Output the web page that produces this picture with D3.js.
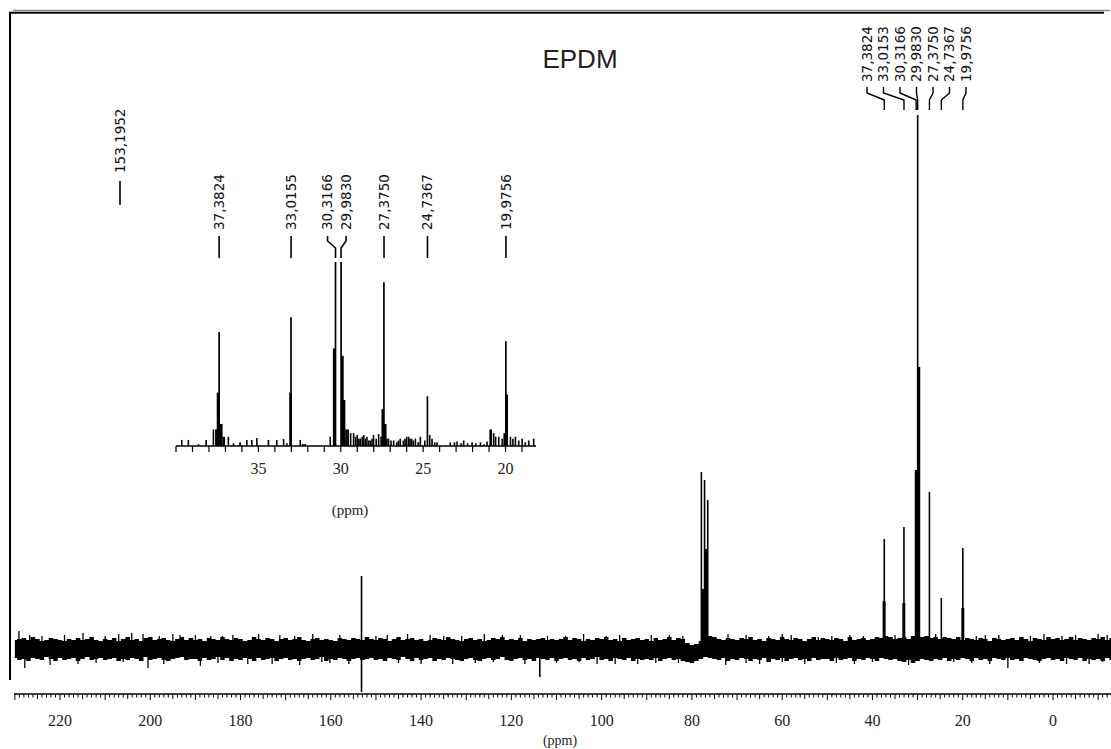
<!DOCTYPE html>
<html><head><meta charset="utf-8">
<script src="https://cdn.jsdelivr.net/npm/d3@7"></script>
<style>body{margin:0;background:#fff}svg{display:block}</style>
</head><body>
<svg id="c" width="1111" height="749"></svg>
<script>
// ---------------- DATA ----------------
const title = "EPDM";
const axisLabel = "(ppm)";
// baseline noise envelope, 1 ppm bins starting at 230 ppm going down to -13 ppm
const noiseStart = 230;
const noiseHi = [
  9,10,11,9,12,10,8,9,11,10,9,8,10,9,11,9,10,12,9,8,
  10,9,11,8,10,12,9,10,8,11,12,9,10,11,9,8,10,12,9,11,
  9,10,8,11,10,9,12,10,9,11,10,8,9,12,10,9,11,10,8,10,
  11,9,10,12,9,8,10,11,9,10,9,8,11,10,9,11,10,9,12,10,
  9,11,10,8,10,12,9,10,11,9,10,8,9,11,10,9,12,10,9,8,
  10,11,9,10,8,9,11,10,12,9,10,9,11,8,10,9,10,11,9,10,
  9,10,12,9,11,10,8,10,9,11,10,12,9,10,8,11,9,10,11,9,
  10,8,11,9,10,12,9,11,10,6,4,5,8,12,13,12,10,9,11,10,
  9,11,10,12,9,10,8,11,10,9,12,10,9,11,10,8,10,12,9,11,
  10,9,11,10,8,12,9,10,11,9,10,12,11,13,12,10,11,12,10,13,
  14,12,13,11,12,10,12,11,10,12,9,11,10,9,11,10,8,11,10,9,
  10,11,9,12,10,8,11,10,9,12,10,11,9,10,12,9,11,10,9,11,
  10,12,9,11
];
const noiseLo = [
  -9,-11,-10,-12,-9,-10,-11,-8,-10,-12,-9,-11,-10,-9,-12,-10,-8,-11,-10,-9,
  -11,-10,-9,-12,-10,-11,-9,-10,-12,-8,-11,-10,-9,-11,-12,-10,-9,-8,-11,-10,
  -10,-12,-9,-11,-10,-8,-11,-9,-12,-10,-11,-9,-10,-12,-9,-11,-10,-9,-12,-10,
  -9,-11,-10,-12,-10,-9,-11,-10,-8,-12,-10,-11,-9,-10,-12,-10,-9,-11,-10,-9,
  -11,-10,-12,-9,-10,-11,-8,-10,-12,-9,-11,-10,-9,-12,-10,-11,-9,-10,-11,-12,
  -10,-9,-11,-12,-10,-9,-11,-10,-8,-11,-12,-10,-9,-11,-10,-12,-9,-10,-11,-9,
  -12,-10,-9,-11,-10,-12,-9,-11,-10,-8,-11,-10,-12,-9,-10,-11,-9,-12,-10,-11,
  -10,-11,-9,-12,-10,-9,-11,-10,-12,-13,-14,-12,-10,-8,-9,-10,-11,-9,-12,-10,
  -11,-9,-10,-12,-10,-11,-9,-13,-10,-11,-9,-12,-10,-9,-11,-10,-12,-9,-11,-10,
  -10,-12,-9,-11,-10,-9,-12,-10,-11,-9,-10,-12,-9,-10,-11,-10,-12,-13,-11,-14,
  -12,-10,-11,-12,-10,-11,-9,-12,-10,-11,-9,-10,-12,-9,-11,-10,-12,-9,-10,-11,
  -9,-11,-10,-12,-9,-10,-11,-12,-10,-9,-11,-10,-12,-9,-10,-11,-9,-12,-10,-11,
  -10,-12,-9,-11
];
// isolated noise spikes [ppm, intensity]
const spikes = [
  [229.1,18],[226.7,14],[224,13],[219,14],[214.9,16],[210,13],[207,15],[204.1,16],[201.6,15],
  [198,13],[195,15],[193.4,14],[190,14],[186.6,13],[184,13],[181.7,14],[176,15],[171.3,14],
  [168,13],[164,15],[158,14],[150,13],[147.5,14],[143,15],[138,14],[135,13],[131,13],
  [126,15],[122,14],[118,14],[112,13],[108,13],[104,15],[99,13],[96,14],[89,14],[85,14],
  [82,13],[72,15],[68,14],[63,13],[60,15],[58,14],[52,12],[49,13],[45,14],[42,13],[35,14],
  [26,15],[17,13],[15,14],[12,14],[5,13],[2,15],[-2,13],[-5,14],[-10,15],[-12,14],
  [227.8,-19],[222.2,-16],[216,-15],[212,-14],[206,-13],[200.5,-19],[197,-15],[188.9,-17],
  [185,-14],[178.4,-15],[173,-15],[166.9,-16],[162,-13],[160.2,-14],[156,-15],[145,-14],
  [140,-15],[133,-15],[128,-14],[124,-13],[117,-15],[110,-14],[105,-13],[101,-15],[97,-15],
  [92,-15],[88,-14],[83,-14],[72.5,-16],[68,-14],[65,-15],[60,-13],[55,-15],[48,-14],
  [44,-15],[40,-13],[32,-16],[22,-13],[18,-14],[14,-15],[10,-19],[3,-14],[-3,-15],
  [-8,-15],[-11,-13]
];
// resonances of the full spectrum [ppm, intensity]
const mainPeaks = [
  [153.2,73],[153.2,-43],[113.7,-28],
  [77.9,177],[77.2,169],[76.5,149],
  [37.38,110],[33.02,122],[30.32,179],[29.98,534],[27.38,157],[24.74,51],[19.98,101]
];
// broader lower parts of the resonances
const mainBodies = [
  [77.6,60],[76.9,100],[37.42,48],[33.05,46],[30.30,179],[29.75,282],[19.98,41]
];
const mainLabels = ["37,3824","33,0153","30,3166","29,9830","27,3750","24,7367","19,9756"];
const mainLabelPpm = [37.3824,33.0153,30.3166,29.9830,27.3750,24.7367,19.9756];
const sideLabel = "153,1952";
const mainTicks = [220,200,180,160,140,120,100,80,60,40,20,0];

// inset (expanded aliphatic region)
const insetLabels = ["37,3824","33,0155","30,3166","29,9830","27,3750","24,7367","19,9756"];
const insetLabelPpm = [37.3824,33.0155,30.3166,29.9830,27.3750,24.7367,19.9756];
const insetTicks = [35,30,25,20];
const insetPeaks = [
  [37.38,62],[33.02,70],[30.32,100],[29.98,100],[27.38,89],[24.74,27],[19.98,57]
];
const insetBodies = [
  [37.55,9],[37.45,29],[37.25,12],[37.1,5],[33.05,29],[30.40,53],[29.90,49],[29.80,25],
  [29.65,9],[27.45,20],[27.30,12],[20.9,9],[20.05,7],[19.93,28]
];
const insetNoise = [
  [39.65,3.3],[39.25,3.3],[38.64,1],[38.17,3.3],[37.73,9],[36.82,5],[36.51,1.5],[36.11,2],
  [35.70,3.3],[35.40,3.3],[35.09,4.4],[34.39,3.3],[33.88,3.3],[33.47,3.8],[33.27,1.5],
  [32.46,3.3],[32.3,1.1],[32.16,1.1],[30.64,5],[29.55,9],[29.4,7],[29.22,7],[29.1,5],
  [29.0,6],[28.9,4],[28.82,4],[28.7,5],[28.6,6],[28.5,4],[28.41,5],[28.3,3],[28.2,3],
  [28.1,4],[28.01,6],[27.85,4],[27.70,6.5],[27.55,5],[27.2,4],[27.10,4],[26.95,3],
  [26.79,3],[26.6,2],[26.5,3],[26.39,4],[26.2,3],[26.1,4],[26.0,5],[25.88,5],[25.8,4],
  [25.7,4],[25.6,3],[25.47,4],[25.3,2],[25.17,5],[24.9,3],[24.6,6],[24.46,4],[24.3,2],
  [24.16,2],[23.35,2],[23.1,2],[22.94,2.5],[22.7,1.5],[22.54,3],[22.3,1.5],[22.03,2],
  [21.8,1.5],[21.52,2],[21.3,1],[21.12,2.5],[20.72,7],[20.6,5],[20.41,5],[20.2,4],
  [19.7,5],[19.55,4],[19.40,5],[19.2,3],[18.99,4],[18.8,2],[18.59,3],[18.29,4]
];

// ---------------- DRAWING ----------------
const svg = d3.select("#c");
const ink = "#000";
const sans = "'DejaVu Sans', Verdana, sans-serif";
const serif = "'Liberation Serif', 'Times New Roman', serif";

// frame
svg.append("line").attr("x1",13).attr("x2",1110).attr("y1",10.5).attr("y2",10.5)
  .attr("stroke","#8a8a8a").attr("stroke-width",1.5);
svg.append("line").attr("x1",9).attr("x2",1104).attr("y1",12.8).attr("y2",12.8)
  .attr("stroke",ink).attr("stroke-width",2);
svg.append("line").attr("x1",10).attr("x2",10).attr("y1",12).attr("y2",680)
  .attr("stroke",ink).attr("stroke-width",2);

// main scales
const x = d3.scaleLinear().domain([220, 0]).range([60, 1053]);
const y = d3.scaleLinear().domain([0, 534]).range([649, 115]);

// noise band
const bins = noiseHi.map((h,i)=>({ppm: noiseStart - i, hi: h, lo: noiseLo[i]}));
const area = d3.area().x(d=>x(d.ppm)).y0(d=>y(d.lo)).y1(d=>y(d.hi)).curve(d3.curveStep);
svg.append("path").datum(bins).attr("d",area).attr("fill",ink);

svg.append("g").selectAll("line").data(spikes).join("line")
  .attr("x1",d=>x(d[0])).attr("x2",d=>x(d[0])).attr("y1",y(0)).attr("y2",d=>y(d[1]))
  .attr("stroke",ink).attr("stroke-width",1.3);
svg.append("g").selectAll("line").data(mainBodies).join("line")
  .attr("x1",d=>x(d[0])).attr("x2",d=>x(d[0])).attr("y1",y(0)).attr("y2",d=>y(d[1]))
  .attr("stroke",ink).attr("stroke-width",3);
svg.append("g").selectAll("line").data(mainPeaks).join("line")
  .attr("x1",d=>x(d[0])).attr("x2",d=>x(d[0])).attr("y1",y(0)).attr("y2",d=>y(d[1]))
  .attr("stroke",ink).attr("stroke-width",1.6);

// main axis
const axY = 694;
svg.append("line").attr("x1",14).attr("x2",1111).attr("y1",axY).attr("y2",axY)
  .attr("stroke",ink).attr("stroke-width",1.3);
const minor = d3.range(230, -14, -1);
svg.append("g").selectAll("line").data(minor).join("line")
  .attr("x1",d=>x(d)).attr("x2",d=>x(d)).attr("y1",axY)
  .attr("y2",d=> axY + (d%10===0 ? 6 : d%5===0 ? 5 : 3.5))
  .attr("stroke",ink).attr("stroke-width",1);
svg.append("g").selectAll("text").data(mainTicks).join("text")
  .attr("x",d=>x(d)).attr("y",726).attr("text-anchor","middle")
  .attr("font-family",serif).attr("font-size",16).attr("fill","#222").text(d=>d);
svg.append("text").attr("x",560).attr("y",745).attr("text-anchor","middle")
  .attr("font-family",serif).attr("font-size",14).attr("fill","#222").text(axisLabel);

// title
svg.append("text").attr("x",580).attr("y",68).attr("text-anchor","middle")
  .attr("font-family","'Liberation Sans', Arial, sans-serif").attr("font-size",26)
  .attr("fill","#222").text(title);

// main peak labels with connectors
function vlabel(txt, cx, bottom){
  svg.append("text").attr("transform",`translate(${cx},${bottom}) rotate(-90)`)
    .attr("dy","0.36em").attr("font-family",sans).attr("font-size",13.5)
    .attr("fill","#111").text(txt);
}
mainLabels.forEach((t,i)=>{
  const lx = 867 + i*16.5;
  vlabel(t, lx, 82);
  const px = x(mainLabelPpm[i]);
  svg.append("path").attr("d",`M${lx},87V93L${px},100V110`)
    .attr("fill","none").attr("stroke",ink).attr("stroke-width",1.4);
});
vlabel(sideLabel, 120, 173);
svg.append("line").attr("x1",120).attr("x2",120).attr("y1",181).attr("y2",205)
  .attr("stroke",ink).attr("stroke-width",1.6);

// ---------------- INSET ----------------
const xi = d3.scaleLinear().domain([40, 18.15]).range([176, 536]);
const yi = d3.scaleLinear().domain([0, 100]).range([446, 262]);
const stick = (data, w)=> svg.append("g").selectAll("line").data(data).join("line")
  .attr("x1",d=>xi(d[0])).attr("x2",d=>xi(d[0])).attr("y1",yi(0)).attr("y2",d=>yi(d[1]))
  .attr("stroke",ink).attr("stroke-width",w);
stick(insetNoise, 1.6);
stick(insetBodies, 2.6);
stick(insetPeaks, 1.7);

const iax = yi(0);
svg.append("line").attr("x1",176).attr("x2",536).attr("y1",iax).attr("y2",iax)
  .attr("stroke",ink).attr("stroke-width",1.6);
svg.append("g").selectAll("line").data(d3.range(40, 18, -1)).join("line")
  .attr("x1",d=>xi(d)).attr("x2",d=>xi(d)).attr("y1",iax).attr("y2",iax+6)
  .attr("stroke",ink).attr("stroke-width",1.2);
svg.append("g").selectAll("text").data(insetTicks).join("text")
  .attr("x",d=>xi(d)).attr("y",474).attr("text-anchor","middle")
  .attr("font-family",serif).attr("font-size",16).attr("fill","#222").text(d=>d);
svg.append("text").attr("x",350).attr("y",515).attr("text-anchor","middle")
  .attr("font-family",serif).attr("font-size",15).attr("fill","#222").text(axisLabel);

const insetShift = [0,0,-8,5,0,0,0];
insetLabels.forEach((t,i)=>{
  const px = xi(insetLabelPpm[i]);
  const lx = px + insetShift[i];
  vlabel(t, lx, 230);
  svg.append("path").attr("d",`M${lx},236V241L${px},248V258`)
    .attr("fill","none").attr("stroke",ink).attr("stroke-width",1.6);
});
</script>
</body></html>
